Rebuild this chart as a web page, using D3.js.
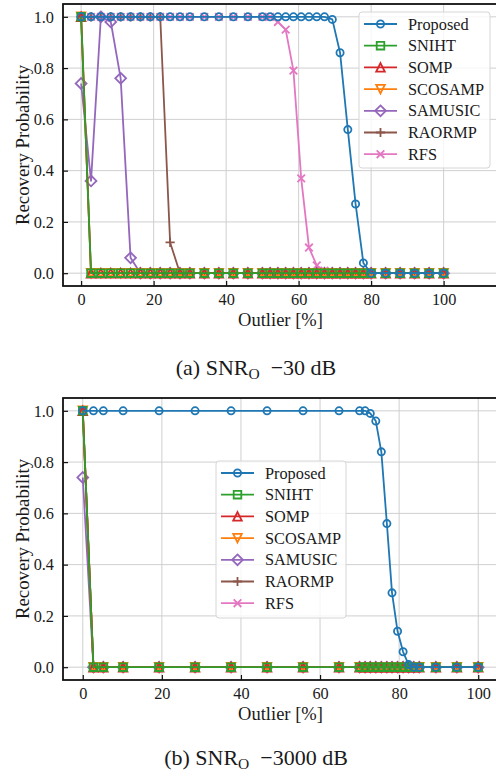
<!DOCTYPE html>
<html>
<head>
<meta charset="utf-8">
<script src="https://cdn.jsdelivr.net/npm/d3@7/dist/d3.min.js"></script>
<style>
  body { margin: 0; background: #fff; }
  svg { display: block; }
  text { font-family: "Liberation Serif", "Times New Roman", serif; fill: #1a1a1a; }
</style>
</head>
<body>
<svg id="fig" width="496" height="777"></svg>
<script>
// ---- data: panel (a), SNR_O = -30 dB ----
const outlierA = [0, 2.73, 5.45, 8.18, 10.91, 13.64, 16.36, 19.09, 21.82, 24.55, 27.27, 30,
                  34, 38, 42, 46,
                  50, 52.14, 54.29, 56.43, 58.57, 60.71, 62.86, 65, 67.14, 69.29, 71.43, 73.57, 75.71, 77.86, 80,
                  84, 88, 92, 96, 100];
const proposedA = [1, 1, 1, 1, 1, 1, 1, 1, 1, 1, 1, 1,
                   1, 1, 1, 1,
                   1, 1, 1, 1, 1, 1, 1, 1, 1, 0.99, 0.86, 0.56, 0.27, 0.04, 0,
                   0, 0, 0, 0, 0];
const snihtA   = [1, 0, 0, 0, 0, 0, 0, 0, 0, 0, 0, 0, 0, 0, 0, 0, 0, 0, 0, 0, 0, 0, 0, 0, 0, 0, 0, 0, 0, 0, 0, 0, 0, 0, 0, 0];
const sompA    = [1, 0, 0, 0, 0, 0, 0, 0, 0, 0, 0, 0, 0, 0, 0, 0, 0, 0, 0, 0, 0, 0, 0, 0, 0, 0, 0, 0, 0, 0, 0, 0, 0, 0, 0, 0];
const scosampA = [1, 0, 0, 0, 0, 0, 0, 0, 0, 0, 0, 0, 0, 0, 0, 0, 0, 0, 0, 0, 0, 0, 0, 0, 0, 0, 0, 0, 0, 0, 0, 0, 0, 0, 0, 0];
const samusicA = [0.74, 0.36, 1, 0.98, 0.76, 0.06, 0, 0, 0, 0, 0, 0,
                  0, 0, 0, 0,
                  0, 0, 0, 0, 0, 0, 0, 0, 0, 0, 0, 0, 0, 0, 0,
                  0, 0, 0, 0, 0];
const raormpA  = [1, 1, 1, 1, 1, 1, 1, 1, 1, 0.12, 0, 0,
                  0, 0, 0, 0,
                  0, 0, 0, 0, 0, 0, 0, 0, 0, 0, 0, 0, 0, 0, 0,
                  0, 0, 0, 0, 0];
const rfsA     = [1, 1, 1, 1, 1, 1, 1, 1, 1, 1, 1, 1,
                  1, 1, 1, 1,
                  1, 1, 0.98, 0.95, 0.79, 0.37, 0.10, 0.03, 0.01, 0, 0, 0, 0, 0, 0,
                  0, 0, 0, 0, 0];

// ---- data: panel (b), SNR_O = -3000 dB ----
const outlierB = [0, 2.7, 5.2, 10.2, 19.3, 28.4, 37.5, 46.6, 55.7, 64.8,
                  70, 71.4, 72.7, 74.1, 75.5, 76.9, 78.2, 79.6, 81, 82.4, 83.7, 85.1,
                  89.3, 94.6, 100];
const proposedB = [1, 1, 1, 1, 1, 1, 1, 1, 1, 1,
                   1, 1, 0.99, 0.96, 0.84, 0.56, 0.29, 0.14, 0.06, 0.01, 0, 0,
                   0, 0, 0];
const snihtB   = [1, 0, 0, 0, 0, 0, 0, 0, 0, 0, 0, 0, 0, 0, 0, 0, 0, 0, 0, 0, 0, 0, 0, 0, 0];
const sompB    = [1, 0, 0, 0, 0, 0, 0, 0, 0, 0, 0, 0, 0, 0, 0, 0, 0, 0, 0, 0, 0, 0, 0, 0, 0];
const scosampB = [1, 0, 0, 0, 0, 0, 0, 0, 0, 0, 0, 0, 0, 0, 0, 0, 0, 0, 0, 0, 0, 0, 0, 0, 0];
const samusicB = [0.74, 0, 0, 0, 0, 0, 0, 0, 0, 0, 0, 0, 0, 0, 0, 0, 0, 0, 0, 0, 0, 0, 0, 0, 0];
const raormpB  = [1, 0, 0, 0, 0, 0, 0, 0, 0, 0, 0, 0, 0, 0, 0, 0, 0, 0, 0, 0, 0, 0, 0, 0, 0];
const rfsB     = [1, 0, 0, 0, 0, 0, 0, 0, 0, 0, 0, 0, 0, 0, 0, 0, 0, 0, 0, 0, 0, 0, 0, 0, 0];

// ---- axis ticks and labels ----
const xTicks = [0, 20, 40, 60, 80, 100];
const yTicks = [0, 0.2, 0.4, 0.6, 0.8, 1.0];
const xLabel = "Outlier [%]";
const yLabel = "Recovery Probability";
const methodNames = ["Proposed", "SNIHT", "SOMP", "SCOSAMP", "SAMUSIC", "RAORMP", "RFS"];

// ---- styles per method ----
const styles = {
  Proposed: { color: "#1f77b4", marker: "circle" },
  SNIHT:    { color: "#2ca02c", marker: "square" },
  SOMP:     { color: "#d62728", marker: "triUp" },
  SCOSAMP:  { color: "#ff7f0e", marker: "triDown" },
  SAMUSIC:  { color: "#9467bd", marker: "diamond" },
  RAORMP:   { color: "#8c564b", marker: "plus" },
  RFS:      { color: "#e377c2", marker: "cross" }
};

// marker outlines centred on (0,0)
const markerPath = {
  circle:  "M3.6,0A3.6,3.6 0 1,1 -3.6,0A3.6,3.6 0 1,1 3.6,0Z",
  square:  "M-3.8,-3.8H3.8V3.8H-3.8Z",
  triUp:   "M0,-4.3L4.3,4.3H-4.3Z",
  triDown: "M0,4.3L4.3,-4.3H-4.3Z",
  diamond: "M0,-5.4L5.4,0L0,5.4L-5.4,0Z",
  plus:    "M-4.6,0H4.6M0,-4.6V4.6",
  cross:   "M-3.8,-3.8L3.8,3.8M-3.8,3.8L3.8,-3.8"
};

const panels = [
  {
    x: outlierA, xDomain: [-5, 115], top: 4, bottom: 286,
    series: { Proposed: proposedA, SNIHT: snihtA, SOMP: sompA, SCOSAMP: scosampA,
              SAMUSIC: samusicA, RAORMP: raormpA, RFS: rfsA },
    legend: { x: 359, y: 12, w: 131, h: 156 },
    tag: "(a)", snr: "\u221230 dB", captionY: 375
  },
  {
    x: outlierB, xDomain: [-5, 105], top: 398, bottom: 680,
    series: { Proposed: proposedB, SNIHT: snihtB, SOMP: sompB, SCOSAMP: scosampB,
              SAMUSIC: samusicB, RAORMP: raormpB, RFS: rfsB },
    legend: { x: 216, y: 461, w: 130, h: 157 },
    tag: "(b)", snr: "\u22123000 dB", captionY: 765
  }
];

const svg = d3.select("#fig");
const left = 63, right = 498;
const drawOrder = ["RFS", "RAORMP", "SAMUSIC", "SCOSAMP", "SOMP", "SNIHT", "Proposed"];
const lw = 1.8;

panels.forEach(p => {
  const xs = d3.scaleLinear().domain(p.xDomain).range([left, right]);
  const ys = d3.scaleLinear().domain([-0.05, 1.05]).range([p.bottom, p.top]);
  const g = svg.append("g");

  // grid
  g.append("g").selectAll("line").data(xTicks).join("line")
    .attr("x1", d => xs(d)).attr("x2", d => xs(d))
    .attr("y1", p.top).attr("y2", p.bottom)
    .attr("stroke", "#cfcfcf").attr("stroke-width", 1);
  g.append("g").selectAll("line").data(yTicks).join("line")
    .attr("x1", left).attr("x2", right)
    .attr("y1", d => ys(d)).attr("y2", d => ys(d))
    .attr("stroke", "#cfcfcf").attr("stroke-width", 1);

  // series lines and markers
  const line = d3.line().x(d => xs(d[0])).y(d => ys(d[1]));
  drawOrder.forEach(name => {
    const st = styles[name];
    const pts = p.x.map((v, i) => [v, p.series[name][i]]);
    const sg = g.append("g");
    sg.append("path").datum(pts).attr("d", line)
      .attr("fill", "none").attr("stroke", st.color).attr("stroke-width", lw)
      .attr("stroke-linejoin", "round");
    sg.selectAll("path.m").data(pts).join("path").attr("class", "m")
      .attr("transform", d => `translate(${xs(d[0])},${ys(d[1])})`)
      .attr("d", markerPath[st.marker])
      .attr("fill", "none").attr("stroke", st.color).attr("stroke-width", lw);
  });

  // axes with inward ticks
  const xAxis = d3.axisBottom(xs).tickValues(xTicks).tickSizeInner(-5).tickSizeOuter(0).tickPadding(10)
    .tickFormat(d3.format("d"));
  const gx = g.append("g").attr("transform", `translate(0,${p.bottom})`).call(xAxis);
  const yAxis = d3.axisLeft(ys).tickValues(yTicks).tickSizeInner(-5).tickSizeOuter(0).tickPadding(9)
    .tickFormat(d3.format(".1f"));
  const gy = g.append("g").attr("transform", `translate(${left},0)`).call(yAxis);
  [gx, gy].forEach(a => {
    a.select(".domain").remove();
    a.selectAll(".tick line").attr("stroke", "#111").attr("stroke-width", 1.2);
    a.selectAll(".tick text").attr("font-size", 16.3).attr("font-family", "Liberation Serif").attr("fill", "#1a1a1a");
  });
  gx.selectAll(".tick text").attr("dy", null).attr("y", 19).attr("dominant-baseline", "alphabetic");

  // frame
  g.append("rect").attr("x", left).attr("y", p.top)
    .attr("width", right - left).attr("height", p.bottom - p.top)
    .attr("fill", "none").attr("stroke", "#111").attr("stroke-width", 1.8);

  // axis labels
  g.append("text").attr("x", (left + right) / 2).attr("y", p.bottom + 40)
    .attr("text-anchor", "middle").attr("font-size", 18.5).text(xLabel);
  g.append("text")
    .attr("transform", `translate(29,${(p.top + p.bottom) / 2}) rotate(-90)`)
    .attr("text-anchor", "middle").attr("font-size", 18.8).text(yLabel);

  // legend
  const L = p.legend;
  const lg = g.append("g");
  lg.append("rect").attr("x", L.x).attr("y", L.y).attr("width", L.w).attr("height", L.h)
    .attr("rx", 3).attr("fill", "#fff").attr("fill-opacity", 0.8)
    .attr("stroke", "#d6d6d6").attr("stroke-width", 1);
  methodNames.forEach((name, i) => {
    const st = styles[name];
    const cy = L.y + 12 + i * 21.7;
    lg.append("line").attr("x1", L.x + 5).attr("x2", L.x + 38).attr("y1", cy).attr("y2", cy)
      .attr("stroke", st.color).attr("stroke-width", lw);
    lg.append("path").attr("transform", `translate(${L.x + 21.5},${cy})`)
      .attr("d", markerPath[st.marker]).attr("fill", "none")
      .attr("stroke", st.color).attr("stroke-width", lw);
    lg.append("text").attr("x", L.x + 49).attr("y", cy + 5.5)
      .attr("font-size", 16.3).text(name);
  });

  // caption
  const cap = svg.append("text").attr("x", 256).attr("y", p.captionY)
    .attr("text-anchor", "middle").attr("font-size", 22);
  cap.append("tspan").text(p.tag + " SNR");
  cap.append("tspan").attr("font-size", 15.5).attr("dy", 3.5).text("O");
  cap.append("tspan").attr("dy", -3.5).text("\u2002" + p.snr);
});
</script>
</body>
</html>
